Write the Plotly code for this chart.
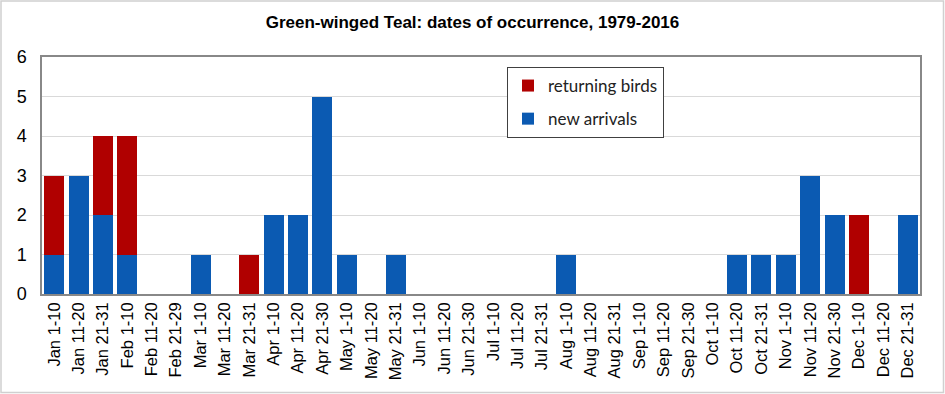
import plotly.graph_objects as go

categories = ["Jan 1-10", "Jan 11-20", "Jan 21-31", "Feb 1-10", "Feb 11-20", "Feb 21-29",
              "Mar 1-10", "Mar 11-20", "Mar 21-31", "Apr 1-10", "Apr 11-20", "Apr 21-30",
              "May 1-10", "May 11-20", "May 21-31", "Jun 1-10", "Jun 11-20", "Jun 21-30",
              "Jul 1-10", "Jul 11-20", "Jul 21-31", "Aug 1-10", "Aug 11-20", "Aug 21-31",
              "Sep 1-10", "Sep 11-20", "Sep 21-30", "Oct 1-10", "Oct 11-20", "Oct 21-31",
              "Nov 1-10", "Nov 11-20", "Nov 21-30", "Dec 1-10", "Dec 11-20", "Dec 21-31"]
new_arrivals = [1, 3, 2, 1, 0, 0, 1, 0, 0, 2, 2, 5, 1, 0, 1, 0, 0, 0,
                0, 0, 0, 1, 0, 0, 0, 0, 0, 0, 1, 1, 1, 3, 2, 0, 0, 2]
returning_birds = [2, 0, 2, 3, 0, 0, 0, 0, 1, 0, 0, 0, 0, 0, 0, 0, 0, 0,
                   0, 0, 0, 0, 0, 0, 0, 0, 0, 0, 0, 0, 0, 0, 0, 2, 0, 0]
y_ticks = [0, 1, 2, 3, 4, 5, 6]

W, H = 945, 394
ML, MR, MT, MB = 42, 25, 57, 100
pw = W - ML - MR
ph = H - MT - MB

fig = go.Figure()
fig.add_trace(go.Bar(x=categories, y=new_arrivals, name="new arrivals", legendgroup="new",
                     legendrank=2, marker=dict(color="#0B5AB2", line=dict(width=0))))
fig.add_trace(go.Bar(x=categories, y=returning_birds, name="returning birds", legendgroup="ret",
                     legendrank=1, marker=dict(color="#B00000", line=dict(width=0))))

fig.add_shape(type="rect", xref="paper", yref="paper",
              x0=(-ML + 1) / pw, x1=1 + (MR - 1.5) / pw,
              y0=(-MB + 1.5) / ph, y1=1 + (MT - 1) / ph,
              line=dict(color="#D0D0D0", width=1.5), layer="below")

fig.update_layout(
    width=W, height=H,
    margin=dict(l=ML, r=MR, t=MT, b=MB, autoexpand=False),
    barmode="stack", bargap=0.18,
    plot_bgcolor="white", paper_bgcolor="white",
    title=dict(text="<b>Green-winged Teal: dates of occurrence, 1979-2016</b>",
               x=0.5, xanchor="center", y=1 - 22 / H, yanchor="middle",
               font=dict(family="Liberation Sans, Arial", size=17, color="black")),
    legend=dict(x=(507 - ML) / pw, y=1 - (67 - MT) / ph,
                xanchor="left", yanchor="top", traceorder="grouped",
                bordercolor="#404040", borderwidth=1, bgcolor="white",
                font=dict(family="Lato, Open Sans", size=17, color="#222"),
                itemwidth=30, tracegroupgap=8),
    showlegend=True,
)
fig.update_xaxes(tickmode="array", tickvals=categories, ticktext=categories,
                 tickangle=-90, tickfont=dict(family="Liberation Sans, Arial", size=16.5, color="black"),
                 showline=True, linecolor="#888888", linewidth=1.5, ticks="", showgrid=False,
                 mirror=True, automargin=False)
fig.update_yaxes(range=[0, 6], tickvals=y_ticks, showgrid=True, gridcolor="#D9D9D9", gridwidth=1,
                 showline=True, linecolor="#888888", linewidth=1.5, mirror=True,
                 tickfont=dict(family="Liberation Sans, Arial", size=18, color="black"),
                 ticks="outside", ticklen=10, tickcolor="white", zeroline=False, automargin=False)

fig.write_html("out.html", config={"displayModeBar": False},
               post_script="document.body.style.margin='0';")
